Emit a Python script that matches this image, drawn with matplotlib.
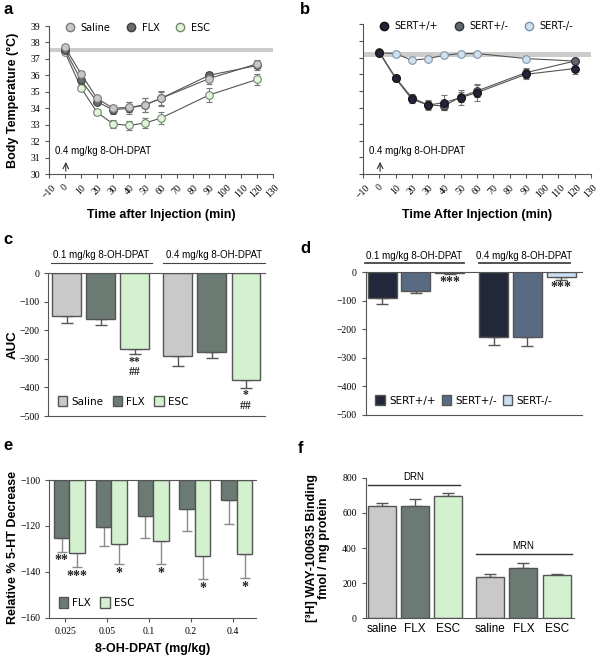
import numpy as np
import matplotlib
matplotlib.use("Agg")
import matplotlib.pyplot as plt
from matplotlib.patches import Patch
from matplotlib.lines import Line2D

# ===== DATA =====
time_min = [0, 10, 20, 30, 40, 50, 60, 90, 120]

# panel a: body temperature, treatment groups
saline_t = [37.7, 36.1, 34.6, 34.0, 34.05, 34.2, 34.6, 35.8, 36.7]
saline_t_err = [0.1, 0.15, 0.15, 0.2, 0.3, 0.45, 0.4, 0.3, 0.25]
flx_t = [37.55, 35.7, 34.4, 33.9, 34.0, 34.2, 34.6, 36.0, 36.6]
flx_t_err = [0.1, 0.15, 0.15, 0.25, 0.35, 0.45, 0.45, 0.2, 0.3]
esc_t = [37.4, 35.25, 33.75, 33.05, 32.95, 33.1, 33.4, 34.8, 35.75]
esc_t_err = [0.1, 0.15, 0.15, 0.25, 0.3, 0.3, 0.35, 0.4, 0.35]

# panel b: body temperature, genotypes
wt_t = [37.3, 35.75, 34.5, 34.15, 34.3, 34.6, 34.9, 36.0, 36.35]
wt_t_err = [0.1, 0.15, 0.2, 0.3, 0.45, 0.45, 0.5, 0.3, 0.3]
het_t = [37.35, 35.8, 34.6, 34.15, 34.1, 34.65, 35.0, 36.1, 36.8]
het_t_err = [0.1, 0.15, 0.2, 0.25, 0.25, 0.3, 0.35, 0.3, 0.15]
ko_t = [37.3, 37.25, 36.85, 36.95, 37.15, 37.25, 37.25, 36.95, 36.8]
ko_t_err = [0.05, 0.05, 0.05, 0.05, 0.05, 0.05, 0.05, 0.05, 0.05]

# panel c: AUC (0.1 then 0.4 mg/kg), saline / FLX / ESC
auc_treat = [-150, -161, -266, -290, -275, -374]
auc_treat_err = [25, 20, 18, 35, 23, 27]
auc_treat_sig = ["", "", "**\n##", "", "", "*\n##"]
# panel d: AUC, SERT+/+ / SERT+/- / SERT-/-
auc_geno = [-89, -64, -3, -227, -227, -16]
auc_geno_err = [22, 10, 4, 28, 30, 10]
auc_geno_sig = ["", "", "***", "", "", "***"]

# panel e: relative % 5-HT decrease
doses = ["0.025", "0.05", "0.1", "0.2", "0.4"]
flx_ht = [-125.4, -120.6, -115.7, -112.6, -108.7]
flx_ht_err = [5.8, 8.2, 9.7, 9.6, 10.5]
esc_ht = [-131.7, -128.0, -126.5, -133.0, -132.3]
esc_ht_err = [6.1, 8.8, 10.3, 10.2, 10.3]
flx_stars = ["**", "", "", "", ""]
esc_stars = ["***", "*", "*", "*", "*"]

# panel f: WAY-100635 binding (DRN then MRN)
bind_labels = ["saline", "FLX", "ESC", "saline", "FLX", "ESC"]
binding = [641, 641, 698, 233, 288, 245]
binding_err = [13, 36, 13, 19, 29, 9]

# ===== STYLE =====
c_sal, c_flx, c_esc = "#c9c9c9", "#6b7a72", "#d3f1cf"
c_wt, c_het, c_ko = "#23273a", "#5a6a82", "#cce0f5"
serif = "Liberation Serif"
sans = "Liberation Sans"
comic = "DejaVu Sans"

W, H = 599, 655
fig = plt.figure(figsize=(W / 100, H / 100), dpi=100)


def px_axes(x0, y0, x1, y1):
    return fig.add_axes([x0 / W, 1 - y1 / H, (x1 - x0) / W, (y1 - y0) / H])


def style_ticks(ax):
    for lab in ax.get_xticklabels() + ax.get_yticklabels():
        lab.set_fontfamily(serif)
    ax.tick_params(labelsize=7, length=3, width=0.8, color="#555555")
    for s in ax.spines.values():
        s.set_color("#555555")


def stars(ax, x, y_top, s, size=10):
    # star glyphs sit high in the text box, so anchor the top just below the error cap
    ax.text(x, y_top, s, ha="center", va="top", fontsize=size,
            fontweight="bold", family=serif, color="#222222",
            linespacing=0.85)


# ===== PANEL a / b : time courses =====
def time_panel(ax, series, band_y, show_ylabels):
    ax.axhspan(band_y - 0.13, band_y + 0.13, color="#cccccc", lw=0, zorder=0)
    for y, e, face, edge in series:
        ax.errorbar(time_min, y, yerr=e, color="#555555", lw=0.8, marker="o",
                    ms=5.5, mfc=face, mec=edge, mew=0.8, ecolor="#777777",
                    elinewidth=0.8, capsize=2.5, zorder=3)
    ax.set_xlim(-10, 130)
    ax.set_ylim(30, 39)
    ax.set_xticks(np.arange(-10, 131, 10))
    ax.set_yticks(np.arange(30, 40, 1))
    ax.spines[["top", "right"]].set_visible(False)
    style_ticks(ax)
    plt.setp(ax.get_xticklabels(), rotation=45, ha="center")
    if not show_ylabels:
        ax.set_yticklabels([])
    ax.annotate("", xy=(0.5, 30.9), xytext=(0.5, 30.0),
                arrowprops=dict(arrowstyle="->", color="#333333", lw=0.8))
    ax.text(-6.5, 31.1, "0.4 mg/kg 8-OH-DPAT", fontsize=7, family=sans,
            va="bottom")


def marker_legend(ax, styles, labels):
    handles = [Line2D([], [], marker="o", ls="", ms=6, mfc=f, mec=e)
               for f, e in styles]
    ax.legend(handles, labels, ncol=3, frameon=False, loc="lower left",
              bbox_to_anchor=(0.02, 0.91), handletextpad=0.1,
              columnspacing=1.1, borderpad=0.2,
              prop={"family": comic, "size": 7})


ax_a = px_axes(49, 26, 273, 174)
time_panel(ax_a, [(esc_t, esc_t_err, "#e4f4df", "#6f8a6b"),
                  (flx_t, flx_t_err, "#676d6a", "#3c3c3c"),
                  (saline_t, saline_t_err, "#c8c8c8", "#7a7a7a")], 37.55, True)
marker_legend(ax_a, [("#c8c8c8", "#7a7a7a"), ("#676d6a", "#3c3c3c"),
                     ("#e4f4df", "#6f8a6b")], ["Saline", "FLX", "ESC"])
ax_a.set_xlabel("Time after Injection (min)", fontsize=9, fontweight="bold",
                family=sans, labelpad=6)

ax_b = px_axes(363, 24.5, 591, 174)
time_panel(ax_b, [(ko_t, ko_t_err, "#cfe0f0", "#8394a6"),
                  (het_t, het_t_err, "#5f6670", "#333333"),
                  (wt_t, wt_t_err, "#22253a", "#111111")], 37.2, False)
marker_legend(ax_b, [("#22253a", "#111111"), ("#5f6670", "#333333"),
                     ("#cfe0f0", "#8394a6")], ["SERT+/+", "SERT+/-", "SERT-/-"])
ax_b.set_xlabel("Time After Injection (min)", fontsize=9, fontweight="bold",
                family=sans, labelpad=6)


# ===== PANEL c / d : AUC bars =====
def auc_panel(ax, pos, vals, errs, sig, colors, labels, xlim, bar_w, lines,
              lw_line, colsp, sig_size):
    ax.bar(pos, vals, width=bar_w, color=colors, edgecolor="#555555", lw=1,
           zorder=2)
    ax.errorbar(pos, vals, yerr=[errs, [0] * len(errs)], fmt="none",
                ecolor="#555555", elinewidth=1, capsize=4, zorder=1)
    for x, v, e, s in zip(pos, vals, errs, sig):
        if s:
            stars(ax, x, v - e - 5, s, sig_size)
    ax.set_xlim(*xlim)
    ax.set_ylim(-500, 0)
    ax.set_yticks(np.arange(-500, 1, 100))
    ax.set_xticks([])
    ax.spines["right"].set_visible(False)
    style_ticks(ax)
    for x0, x1, y, txt in lines:
        ax.plot([x0, x1], [y, y], color="#444444", lw=lw_line, clip_on=False)
        ax.text((x0 + x1) / 2, y + 10, txt, ha="center", va="bottom",
                fontsize=7, family=sans)
    handles = [Patch(facecolor=c, edgecolor="#555555") for c in colors[:3]]
    ax.legend(handles, labels, ncol=3, frameon=False, loc="lower left",
              bbox_to_anchor=(0.0, 0.0), handlelength=0.9, handleheight=1.2,
              handletextpad=0.4, columnspacing=colsp,
              prop={"family": comic, "size": 7.5})


pos_c = [0, 1, 2, 3.26, 4.26, 5.27]
ax_c = px_axes(48.3, 273.3, 265, 416)
auc_panel(ax_c, pos_c, auc_treat, auc_treat_err, auc_treat_sig,
          [c_sal, c_flx, c_esc] * 2, ["Saline", "FLX", "ESC"], (-0.54, 5.83),
          0.84, [(-0.47, 2.5, 37, "0.1 mg/kg 8-OH-DPAT"),
                 (2.82, 5.83, 37, "0.4 mg/kg 8-OH-DPAT")], 0.8, 0.9, 8.5)
fig.text(13 / W, 1 - 345 / H, "AUC", rotation=90, ha="center", va="center",
         fontsize=9.5, fontweight="bold", family=sans)

pos_d = [0, 1, 2, 3.3, 4.3, 5.3]
ax_d = px_axes(366, 272.3, 582, 415)
auc_panel(ax_d, pos_d, auc_geno, auc_geno_err, auc_geno_sig,
          [c_wt, c_het, c_ko] * 2, ["SERT+/+", "SERT+/-", "SERT-/-"],
          (-0.48, 5.92), 0.86,
          [(-0.51, 2.42, 31, "0.1 mg/kg 8-OH-DPAT"),
           (2.88, 5.55, 31, "0.4 mg/kg 8-OH-DPAT")], 1.3, 0.6, 10)

# ===== PANEL e : 5-HT decrease =====
ax_e = px_axes(49.3, 480, 256, 617.7)
xe = np.arange(len(doses))
bw = 0.37
flx_h = np.array(flx_ht) + 100
esc_h = np.array(esc_ht) + 100
ax_e.bar(xe - bw / 2, flx_h, bottom=-100, width=bw, color=c_flx,
         edgecolor="#555555", lw=1, zorder=2)
ax_e.bar(xe + bw / 2, esc_h, bottom=-100, width=bw, color=c_esc,
         edgecolor="#555555", lw=1, zorder=2)
ax_e.errorbar(xe - bw / 2, flx_ht, yerr=[flx_ht_err, [0] * 5], fmt="none",
              ecolor="#8a8a8a", elinewidth=1, capsize=3.5, zorder=1)
ax_e.errorbar(xe + bw / 2, esc_ht, yerr=[esc_ht_err, [0] * 5], fmt="none",
              ecolor="#8a8a8a", elinewidth=1, capsize=3.5, zorder=1)
for i in range(len(doses)):
    if flx_stars[i]:
        stars(ax_e, xe[i] - bw / 2, flx_ht[i] - flx_ht_err[i] - 1.2,
              flx_stars[i])
    if esc_stars[i]:
        stars(ax_e, xe[i] + bw / 2, esc_ht[i] - esc_ht_err[i] - 1.2,
              esc_stars[i])
ax_e.set_xlim(-0.483, 4.46)
ax_e.set_ylim(-160, -100)
ax_e.set_yticks([-160, -140, -120, -100])
ax_e.set_xticks(xe - 0.1)
ax_e.set_xticklabels(doses)
ax_e.tick_params(axis="x", length=0)
ax_e.spines["right"].set_visible(False)
style_ticks(ax_e)
ax_e.legend([Patch(facecolor=c_flx, edgecolor="#555555"),
             Patch(facecolor=c_esc, edgecolor="#555555")], ["FLX", "ESC"],
            ncol=2, frameon=False, loc="lower left", bbox_to_anchor=(0.0, 0.0),
            handlelength=0.9, handleheight=1.2, handletextpad=0.4,
            columnspacing=0.9, prop={"family": comic, "size": 7.5})
ax_e.set_xlabel("8-OH-DPAT (mg/kg)", fontsize=9, fontweight="bold",
                family=sans, labelpad=5)
fig.text(13 / W, 1 - 548 / H, "Relative % 5-HT Decrease", rotation=90,
         ha="center", va="center", fontsize=9, fontweight="bold", family=sans)

# ===== PANEL f : binding =====
ax_f = px_axes(366, 477.7, 574, 618.3)
pos_f = [0, 1, 2, 3.25, 4.25, 5.25]
ax_f.bar(pos_f, binding, width=0.84, color=[c_sal, c_flx, c_esc] * 2,
         edgecolor="#555555", lw=1, zorder=2)
ax_f.errorbar(pos_f, binding, yerr=[[0] * 6, binding_err], fmt="none",
              ecolor="#555555", elinewidth=1, capsize=4, zorder=1)
for x0, x1, y, txt in [(-0.4, 2.35, 759, "DRN"), (2.82, 5.7, 364, "MRN")]:
    ax_f.plot([x0, x1], [y, y], color="#333333", lw=1, clip_on=False)
    ax_f.text((x0 + x1) / 2, y + 18, txt, ha="center", va="bottom",
              fontsize=7, family=sans)
ax_f.set_xlim(-0.47, 5.77)
ax_f.set_ylim(0, 800)
ax_f.set_yticks(np.arange(0, 801, 200))
ax_f.set_xticks(pos_f)
ax_f.set_xticklabels(bind_labels)
ax_f.spines[["top", "right"]].set_visible(False)
style_ticks(ax_f)
ax_f.tick_params(axis="x", length=0, labelsize=8.5)
for lab in ax_f.get_xticklabels():
    lab.set_fontfamily(sans)
fig.text(318 / W, 1 - 548 / H, "[³H] WAY-100635 Binding\nfmol / mg protein",
         rotation=90, ha="center", va="center", fontsize=9, fontweight="bold",
         family=sans, linespacing=1.1)

# ===== Y LABEL a, PANEL LETTERS =====
fig.text(13 / W, 1 - 100 / H, "Body Temperature (°C)", rotation=90,
         ha="center", va="center", fontsize=9, fontweight="bold", family=sans)
for x, y, s in [(3, 2, "a"), (300, 2, "b"), (3, 232, "c"), (300, 241, "d"),
                (3, 438, "e"), (298, 441, "f")]:
    fig.text(x / W, 1 - y / H, s, ha="left", va="top", fontsize=12,
             fontweight="bold", family=sans)

fig.savefig("out.png", dpi=100)
